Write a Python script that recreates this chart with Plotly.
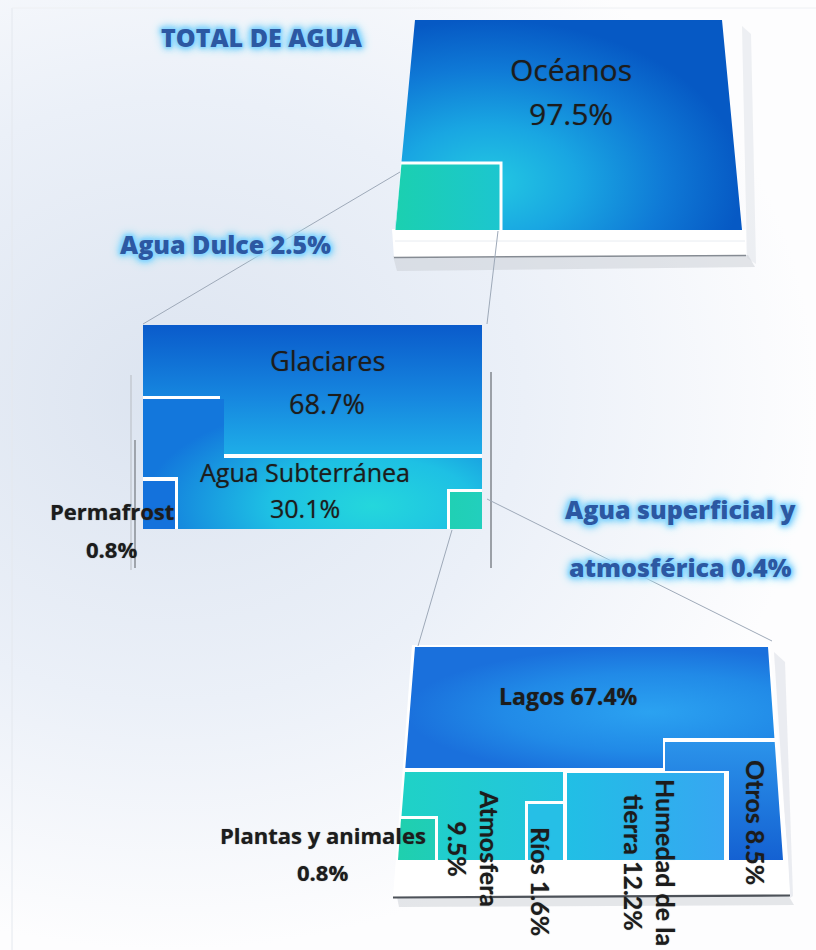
import plotly.graph_objects as go

# ---------------------------------------------------------------- data
total_labels = ["Océanos", "Agua Dulce"]
total_values = [97.5, 2.5]

fresh_labels = ["Glaciares", "Agua Subterránea", "Permafrost", "Agua superficial y atmosférica"]
fresh_values = [68.7, 30.1, 0.8, 0.4]

surface_labels = ["Lagos", "Humedad de la tierra", "Atmosfera", "Otros", "Ríos", "Plantas y animales"]
surface_values = [67.4, 12.2, 9.5, 8.5, 1.6, 0.8]

title_text = "TOTAL DE AGUA"


def pct(v):
    return f"{v:g}%"


fig = go.Figure()

FONT = "Open Sans"
ROT_FONT = "Lato"
GLOW = ("0 0 1px #8cd6ff, 0 0 2px #8cd6ff, 0 0 3px #8cd6ff, 0 0 4px #8cd6ff, "
        "0 0 5px #8cd6ff, 0 0 6px #90d8ff, 0 0 7px #94d9ff, 0 0 9px #9cdcff, "
        "0 0 11px #a6e0ff, 0 0 13px #b4e5ff")


def area(xs, ys, color=None, grad=None, center=None, opacity=1.0):
    """Filled polygon; for radial gradients a zero-area spur widens the
    bounding box so the gradient is centred on `center`."""
    xs, ys = list(xs), list(ys)
    if center is not None:
        cx, cy = center
        x0, x1, y0, y1 = min(xs), max(xs), min(ys), max(ys)
        sx = 2 * cx - x1 if cx - x0 < x1 - cx else 2 * cx - x0
        sy = 2 * cy - y1 if cy - y0 < y1 - cy else 2 * cy - y0
        xs += [xs[0], sx, xs[0]]
        ys += [ys[0], sy, ys[0]]
    kw = dict(x=xs, y=ys, mode="lines", fill="toself",
              line=dict(width=0, simplify=False), hoverinfo="skip",
              opacity=opacity)
    if grad is not None:
        kw["fillgradient"] = grad
    else:
        kw["fillcolor"] = color
    fig.add_trace(go.Scatter(**kw))


def seg(xs, ys, color="#9ea9b8", width=1.0, opacity=1.0):
    fig.add_trace(go.Scatter(x=xs, y=ys, mode="lines", hoverinfo="skip",
                             opacity=opacity,
                             line=dict(color=color, width=width, simplify=False)))


def label(x, y, text, size, color="#1c1c1c", weight="normal", angle=0,
          shadow="0 0 1px rgba(40,40,40,0.6)", family=FONT):
    fig.add_annotation(x=x, y=y, text=text, showarrow=False, textangle=angle,
                       xanchor="center", yanchor="middle",
                       font=dict(family=family, size=size, color=color,
                                 weight=weight, shadow=shadow))


def radial(stops):
    return dict(type="radial", colorscale=stops)


def linear(kind, start, stop, stops):
    return dict(type=kind, start=start, stop=stop, colorscale=stops)


# ---------------------------------------------------------- background
area([0, 816, 816, 0], [0, 0, 950, 950],
     grad=radial([[0, "#dce4f0"], [0.55, "#ebf0f8"], [1, "#fdfdfe"]]),
     center=(170, 400))
seg([12, 12], [8, 950], color="#e4e8ee", width=1)
seg([12, 816], [8, 8], color="#eef0f3", width=1)

# ------------------------------------------------- panel 1: total water
# soft shadow and white base
area([742, 751, 756, 747], [26, 34, 264, 258], color="#dde1e7", opacity=0.5)
area([393, 748, 755, 397], [256, 255, 267, 271], color="#c9cdd3", opacity=0.5)
area([392, 746, 746, 394], [229, 229, 256, 258], color="#ffffff")
seg([395, 745], [241, 241], color="#e8ecf1", width=1)
seg([394, 746], [257.5, 255.5], color="#858b93", width=1.5)

# top face (Océanos)
area([415, 722, 742, 395], [20, 20, 230, 230],
     grad=radial([[0, "#23c9e2"], [0.35, "#19a6e2"], [0.7, "#0f79d6"],
                  [1, "#0659c4"]]),
     center=(488, 182))
# fresh-water cell with white border
area([401.0, 502.5, 502.5, 395], [161.5, 161.5, 230, 230], color="#ffffff")
area([401.4, 499.5, 499.5, 395.5], [164.5, 164.5, 230, 230],
     grad=linear("horizontal", 396, 500, [[0, "#1bd0b0"], [1, "#1cc6cf"]]))

# ------------------------------------------------- panel 2: fresh water
seg([131, 131], [375, 570], color="#b7bbc1", width=1)
seg([135, 135], [440, 568], color="#8e939a", width=1.6)
seg([491, 491], [372, 568], color="#9ba0a7", width=2)

area([143, 482, 482, 143], [325, 325, 529, 529], color="#ffffff")
# Glaciares
area([143, 482, 482, 220, 220, 143], [325, 325, 454, 454, 396, 396],
     grad=linear("vertical", 325, 455,
                 [[0, "#0a5bcb"], [0.55, "#1686df"], [1, "#1eaee8"]]))
# Agua Subterránea
area([143, 224, 224, 482, 482, 447, 447, 178, 178, 143],
     [399, 399, 458, 458, 489, 489, 529, 529, 477, 477],
     grad=radial([[0, "#24d7dc"], [0.45, "#1ec0e4"], [1, "#1377dc"]]),
     center=(372, 506))
# Permafrost
area([143, 175, 175, 143], [481, 481, 529, 529], color="#1472dc")
# surface & atmospheric water
area([450, 482, 482, 450], [492, 492, 529, 529],
     grad=linear("horizontal", 450, 482, [[0, "#20d0b4"], [1, "#22cfbd"]]))

# ------------------------------------- panel 3: surface & atmospheric
area([774, 785, 793, 790], [652, 662, 896, 898], color="#dde1e7", opacity=0.6)
area([397, 788, 794, 399], [897, 895, 905, 907], color="#c5cad1", opacity=0.45)
area([412, 770, 788, 790, 393, 396], [645, 645, 858, 895, 897, 858], color="#ffffff")
seg([393, 790], [897.5, 895.5], color="#4d5259", width=2.2)

# Lagos
area([415, 768, 774.4, 663, 663, 405.3], [647, 647, 738, 738, 768, 768],
     grad=radial([[0, "#2ba2f1"], [0.6, "#218ae7"], [1, "#1a70dc"]]),
     center=(650, 712))
# Otros
area([665, 774.7, 783, 729, 729, 665], [742, 742, 860, 860, 771, 771],
     grad=linear("vertical", 742, 860, [[0, "#2b93ea"], [1, "#1461d2"]]))
# Atmosfera
area([405, 563, 563, 525, 525, 438, 438, 401.5],
     [772, 772, 801, 801, 860, 860, 816, 816],
     grad=linear("horizontal", 401, 563, [[0, "#1fd2c6"], [1, "#24c3e0"]]))
# Plantas y animales
area([401, 435, 435, 398], [819, 819, 860, 860],
     grad=linear("horizontal", 398, 435, [[0, "#1fd0ae"], [1, "#20cdb8"]]))
# Ríos
area([528, 563, 563, 528], [804, 804, 860, 860], color="#26bfe6")
# Humedad de la tierra
area([567, 724, 724, 567], [773, 773, 860, 860],
     grad=linear("horizontal", 567, 724, [[0, "#21bfe5"], [1, "#37a6f2"]]))

# ------------------------------------------------------ connector lines
seg([400, 143], [172, 324])
seg([498, 487], [231, 324])
seg([452, 418], [530, 646])
seg([487, 772], [499, 641])

# --------------------------------------------------------------- labels
GLOW_C = "#2c58a2"
label(262, 37, title_text, 25, color=GLOW_C, weight=800, shadow=GLOW)
label(225, 244, f"{total_labels[1]} {pct(total_values[1])}", 25,
      color=GLOW_C, weight=800, shadow=GLOW)
sup_a, sup_b = fresh_labels[3].rsplit(" ", 1)
label(680, 509, sup_a, 25, color=GLOW_C, weight=800, shadow=GLOW)
label(680, 567, f"{sup_b} {pct(fresh_values[3])}", 25, color=GLOW_C,
      weight=800, shadow=GLOW)

label(571, 69, total_labels[0], 30)
label(571, 113, pct(total_values[0]), 30)

label(327, 360, fresh_labels[0], 27)
label(327, 403, pct(fresh_values[0]), 27)
label(305, 472, fresh_labels[1], 25)
label(305, 508, pct(fresh_values[1]), 25)
label(112, 511, fresh_labels[2], 22, weight="bold")
label(111, 549, pct(fresh_values[2]), 22, weight="bold")

label(568, 696, f"{surface_labels[0]} {pct(surface_values[0])}", 23,
      weight="bold")
label(323, 835, surface_labels[5], 22, weight="bold")
label(322, 872, pct(surface_values[5]), 22, weight="bold")

hum_a, hum_b = surface_labels[1].rsplit(" ", 1)
label(474, 848, f"{surface_labels[2]}<br>{pct(surface_values[2])}", 25,
      weight="bold", angle=90, family=ROT_FONT)
label(541, 881, f"{surface_labels[4]} {pct(surface_values[4])}", 25,
      weight="bold", angle=90, family=ROT_FONT)
label(650, 862, f"{hum_a}<br>{hum_b} {pct(surface_values[1])}", 25,
      weight="bold", angle=90, family=ROT_FONT)
label(756, 822, f"{surface_labels[3]} {pct(surface_values[3])}", 25,
      weight="bold", angle=90, family=ROT_FONT)

fig.update_layout(
    width=816, height=950,
    margin=dict(l=0, r=0, t=0, b=0),
    xaxis=dict(range=[0, 816], visible=False, fixedrange=True),
    yaxis=dict(range=[950, 0], visible=False, fixedrange=True),
    showlegend=False,
    plot_bgcolor="#ffffff", paper_bgcolor="#ffffff",
)

fig.write_html("out.html", config={"displayModeBar": False})
